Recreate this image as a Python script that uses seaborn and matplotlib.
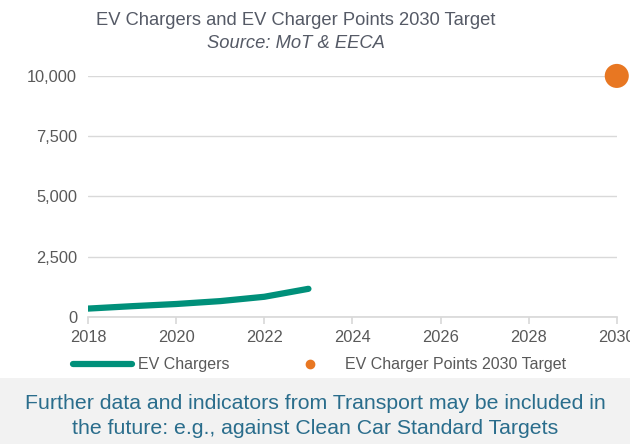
import numpy as np
import pandas as pd
import seaborn as sns
from matplotlib import pyplot as plt
from matplotlib.patches import Rectangle
from matplotlib.lines import Line2D

# data
years = [2018, 2019, 2020, 2021, 2022, 2023]
chargers = [350, 450, 540, 660, 840, 1170]
target_year = [2030]
target_value = [10000]

sns.set_theme(style="white")
plt.rcParams['font.family'] = ['Liberation Sans', 'DejaVu Sans']

teal = "#00907A"
orange = "#E87722"
grey_txt = "#595959"

fig = plt.figure(figsize=(6.3, 4.44), dpi=100)
ax = fig.add_axes([0.14, 0.286, 0.839, 0.543])

df = pd.DataFrame({"year": years, "chargers": chargers})
sns.lineplot(data=df, x="year", y="chargers", ax=ax, color=teal, linewidth=4.5,
             solid_capstyle="round")
dt = pd.DataFrame({"year": target_year, "target": target_value})
sns.scatterplot(data=dt, x="year", y="target", ax=ax, color=orange, s=300,
                edgecolor="none", clip_on=False, zorder=5)

ax.set_xlim(2018, 2030)
ax.set_ylim(0, 10000)
ax.set_xticks(range(2018, 2031, 2))
ax.set_yticks(range(0, 10001, 2500))
ax.set_yticklabels([f"{v:,}" for v in range(0, 10001, 2500)])
ax.set_xlabel("")
ax.set_ylabel("")
ax.grid(axis="y", color="#D9D9D9", linewidth=1)
ax.set_axisbelow(True)
for s in ["top", "right", "left"]:
    ax.spines[s].set_visible(False)
ax.spines["bottom"].set_color("#D9D9D9")
ax.tick_params(axis="x", bottom=True, length=5, color="#D9D9D9", labelsize=11.8,
               labelcolor=grey_txt, pad=4)
ax.tick_params(axis="y", left=False, labelsize=11.8, labelcolor=grey_txt, pad=2)

fig.text(0.47, 0.953, "EV Chargers and EV Charger Points 2030 Target",
         ha="center", va="center", fontsize=13.2, color="#555a66")
fig.text(0.47, 0.903, "Source: MoT & EECA", ha="center", va="center",
         fontsize=13.2, color="#555a66", style="italic")

handles = [Line2D([], [], color=teal, linewidth=4.5, solid_capstyle="round"),
           Line2D([], [], color=orange, marker="o", linestyle="none", markersize=6)]
fig.legend(handles, ["EV Chargers", "EV Charger Points 2030 Target"],
           loc="center", bbox_to_anchor=(0.507, 0.178), ncol=2, frameon=False,
           fontsize=11.5, labelcolor=grey_txt, handlelength=3.7, columnspacing=3.2,
           handletextpad=0.35)

fig.patches.append(Rectangle((0, 0), 1, 0.149, transform=fig.transFigure,
                             facecolor="#F2F2F2", edgecolor="none", zorder=0))
fig.text(0.5, 0.064, "Further data and indicators from Transport may be included in\n"
         "the future: e.g., against Clean Car Standard Targets",
         ha="center", va="center", fontsize=15.3, color="#2A6D8C", linespacing=1.4)

fig.savefig("out.png", dpi=100)
